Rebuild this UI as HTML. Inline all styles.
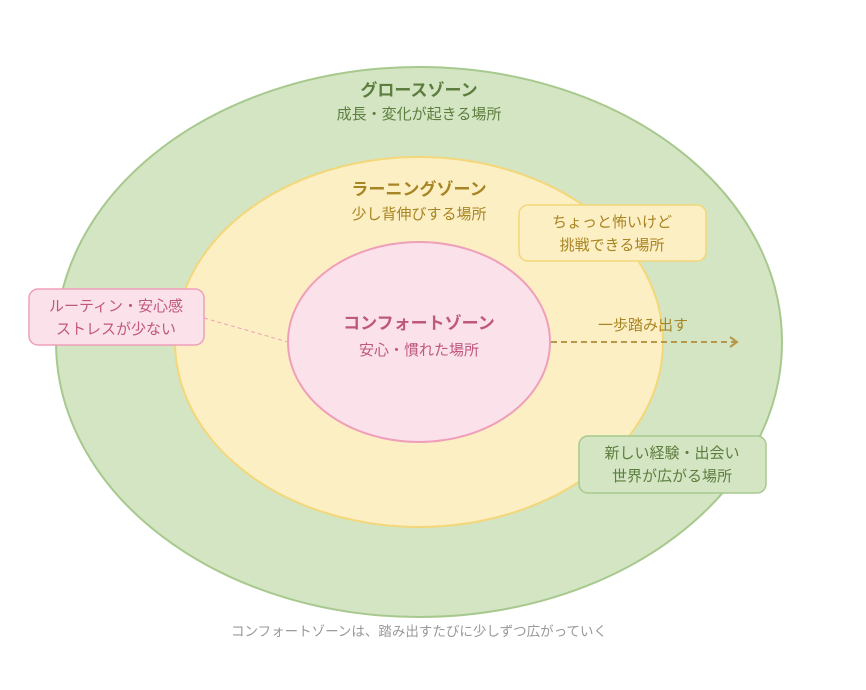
<!DOCTYPE html>
<html><head><meta charset="utf-8"><style>
body{margin:0;background:#fff;}
svg text{font-family:"Liberation Sans","Noto Sans CJK JP",sans-serif;}
</style></head><body>
<svg width="866" height="685" viewBox="0 0 866 685" xmlns="http://www.w3.org/2000/svg">
<ellipse cx="419" cy="342" rx="363" ry="275" fill="#d4e5c3" stroke="#a7c98e" stroke-width="2"/>
<ellipse cx="419" cy="342" rx="244" ry="185" fill="#fcefc3" stroke="#f3d77a" stroke-width="2"/>
<ellipse cx="419" cy="342" rx="131" ry="100" fill="#fae1ea" stroke="#ef9fba" stroke-width="2"/>
<text x="419" y="96" text-anchor="middle" font-size="17" font-weight="bold" fill="#5d7d3f">グロースゾーン</text>
<text x="419" y="119" text-anchor="middle" font-size="15" fill="#5d7d3f">成長・変化が起きる場所</text>
<text x="419" y="195" text-anchor="middle" font-size="17" font-weight="bold" fill="#a88524">ラーニングゾーン</text>
<text x="419" y="219" text-anchor="middle" font-size="15" fill="#a88524">少し背伸びする場所</text>
<text x="419" y="329" text-anchor="middle" font-size="17" font-weight="bold" fill="#c0587d">コンフォートゾーン</text>
<text x="419" y="355" text-anchor="middle" font-size="15" fill="#c0587d">安心・慣れた場所</text>
<line x1="204" y1="318" x2="288" y2="342" stroke="#ef9fba" stroke-width="1" stroke-dasharray="4,3"/>
<rect x="29" y="289" width="175" height="56" rx="9" fill="#fae1ea" stroke="#ef9fba" stroke-width="1.5"/>
<text x="116" y="311" text-anchor="middle" font-size="15" fill="#c0587d">ルーティン・安心感</text>
<text x="116" y="334" text-anchor="middle" font-size="15" fill="#c0587d">ストレスが少ない</text>
<rect x="519" y="205" width="187" height="56" rx="9" fill="#fcefc3" stroke="#f3d77a" stroke-width="1.5"/>
<text x="612" y="227" text-anchor="middle" font-size="15" fill="#a88524">ちょっと怖いけど</text>
<text x="612" y="250" text-anchor="middle" font-size="15" fill="#a88524">挑戦できる場所</text>
<rect x="579" y="436" width="187" height="57" rx="9" fill="#d4e5c3" stroke="#a7c98e" stroke-width="1.5"/>
<text x="672" y="458" text-anchor="middle" font-size="15" fill="#5d7d3f">新しい経験・出会い</text>
<text x="672" y="481" text-anchor="middle" font-size="15" fill="#5d7d3f">世界が広がる場所</text>
<line x1="551" y1="342" x2="736" y2="342" stroke="#b8964a" stroke-width="2" stroke-dasharray="6,4"/>
<polyline points="730,337 737,342 730,347" fill="none" stroke="#b8964a" stroke-width="2"/>
<text x="643" y="330" text-anchor="middle" font-size="15" fill="#a88524">一歩踏み出す</text>
<text x="419" y="636" text-anchor="middle" font-size="13.5" fill="#999">コンフォートゾーンは、踏み出すたびに少しずつ広がっていく</text>
</svg>
</body></html>
